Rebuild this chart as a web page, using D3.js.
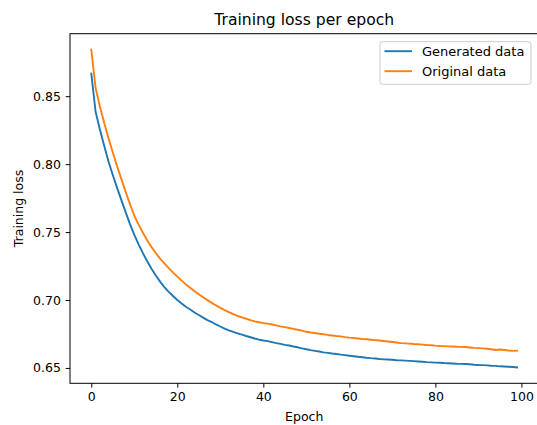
<!DOCTYPE html>
<html>
<head>
<meta charset="utf-8">
<script src="https://cdn.jsdelivr.net/npm/d3@7"></script>
<style>
    body { margin: 0; background: #fff; }
    text { font-family: "DejaVu Sans", sans-serif; fill: #000; }
</style>
</head>
<body>
<div id="chart"></div>
<script>
// epoch index 0..99
const epochs = d3.range(100);

// loss
const generatedLoss = [
    0.8667, 0.8385, 0.8255, 0.8135, 0.8020, 0.7920, 0.7825, 0.7735, 0.7645, 0.7558,
    0.7480, 0.7410, 0.7345, 0.7285, 0.7230, 0.7180, 0.7135, 0.7095, 0.7060, 0.7030,
    0.7000, 0.6975, 0.6950, 0.6930, 0.6908, 0.6890, 0.6870, 0.6852, 0.6838, 0.6820,
    0.6805, 0.6790, 0.6777, 0.6765, 0.6755, 0.6745, 0.6735, 0.6726, 0.6717, 0.6709,
    0.6702, 0.6697, 0.6690, 0.6683, 0.6677, 0.6670, 0.6665, 0.6658, 0.6652, 0.6644,
    0.6638, 0.6631, 0.6626, 0.6621, 0.6615, 0.6611, 0.6606, 0.6603, 0.6598, 0.6594,
    0.6590, 0.6586, 0.6582, 0.6579, 0.6575, 0.6572, 0.6570, 0.6566, 0.6563, 0.6562,
    0.6560, 0.6557, 0.6556, 0.6554, 0.6552, 0.6550, 0.6548, 0.6546, 0.6543, 0.6541,
    0.6539, 0.6538, 0.6536, 0.6535, 0.6533, 0.6531, 0.6530, 0.6529, 0.6527, 0.6524,
    0.6522, 0.6521, 0.6519, 0.6516, 0.6515, 0.6512, 0.6511, 0.6509, 0.6507, 0.6504
];
const originalLoss = [
    0.8843, 0.8560, 0.8425, 0.8305, 0.8190, 0.8085, 0.7985, 0.7890, 0.7795, 0.7705,
    0.7620, 0.7555, 0.7495, 0.7440, 0.7390, 0.7345, 0.7305, 0.7270, 0.7235, 0.7202,
    0.7172, 0.7143, 0.7115, 0.7090, 0.7065, 0.7042, 0.7020, 0.6999, 0.6979, 0.6960,
    0.6942, 0.6926, 0.6911, 0.6897, 0.6884, 0.6872, 0.6862, 0.6852, 0.6843, 0.6836,
    0.6830, 0.6826, 0.6820, 0.6813, 0.6806, 0.6800, 0.6794, 0.6788, 0.6781, 0.6775,
    0.6766, 0.6761, 0.6757, 0.6752, 0.6748, 0.6743, 0.6739, 0.6735, 0.6732, 0.6727,
    0.6723, 0.6720, 0.6717, 0.6713, 0.6711, 0.6708, 0.6705, 0.6702, 0.6698, 0.6695,
    0.6691, 0.6687, 0.6683, 0.6681, 0.6679, 0.6676, 0.6674, 0.6672, 0.6669, 0.6667,
    0.6664, 0.6662, 0.6661, 0.6659, 0.6658, 0.6656, 0.6655, 0.6654, 0.6651, 0.6648,
    0.6646, 0.6644, 0.6641, 0.6638, 0.6632, 0.6636, 0.6632, 0.6628, 0.6626, 0.6627
];

const seriesNames = ["Generated data", "Original data"];
const seriesColors = ["#1f77b4", "#ff7f0e"];
const xTicks = [0, 20, 40, 60, 80, 100];
const yTicks = [0.65, 0.70, 0.75, 0.80, 0.85];

const W = 537, H = 425;
const margin = { top: 33.7, left: 70, right: 538.4, bottom: 383.3 }; // axes box edges
const fontSize = 12.5;

const series = seriesNames.map((name, i) => ({
    name: name,
    color: seriesColors[i],
    values: i === 0 ? generatedLoss : originalLoss
}));

// matplotlib style 5% padding
const pad = (lo, hi) => [lo - (hi - lo) * 0.05, hi + (hi - lo) * 0.05];
const allVals = generatedLoss.concat(originalLoss);

const x = d3.scaleLinear()
    .domain(pad(d3.min(epochs), d3.max(epochs)))
    .range([margin.left, margin.right]);
const y = d3.scaleLinear()
    .domain(pad(d3.min(allVals), d3.max(allVals)))
    .range([margin.bottom, margin.top]);

const svg = d3.select("#chart").append("svg")
    .attr("width", W)
    .attr("height", H)
    .style("display", "block");

svg.append("rect").attr("width", W).attr("height", H).attr("fill", "#fff");

// lines
const line = d3.line()
    .x((d, i) => x(epochs[i]))
    .y(d => y(d));

svg.append("g")
    .selectAll("path")
    .data(series)
    .enter()
    .append("path")
    .attr("d", d => line(d.values))
    .attr("fill", "none")
    .attr("stroke", d => d.color)
    .attr("stroke-width", 1.9)
    .attr("stroke-linejoin", "round")
    .attr("stroke-linecap", "square");

// axes
const xAxis = svg.append("g")
    .attr("transform", "translate(0," + margin.bottom + ")")
    .call(d3.axisBottom(x).tickValues(xTicks).tickSize(4.3).tickPadding(4.5).tickFormat(d3.format("d")));
const yAxis = svg.append("g")
    .attr("transform", "translate(" + margin.left + ",0)")
    .call(d3.axisLeft(y).tickValues(yTicks).tickSize(4.3).tickPadding(4.8).tickFormat(d3.format(".2f")));

[xAxis, yAxis].forEach(g => {
    g.select(".domain").remove();
    g.selectAll(".tick line").attr("stroke", "#000").attr("stroke-width", 1);
    g.selectAll(".tick text")
        .attr("font-family", "DejaVu Sans, sans-serif")
        .attr("font-size", fontSize)
        .attr("fill", "#000");
});

// frame
svg.append("rect")
    .attr("x", margin.left)
    .attr("y", margin.top)
    .attr("width", margin.right - margin.left)
    .attr("height", margin.bottom - margin.top)
    .attr("fill", "none")
    .attr("stroke", "#000")
    .attr("stroke-width", 1);

// title and labels
const cx = (margin.left + margin.right) / 2;
svg.append("text")
    .attr("x", cx)
    .attr("y", 25)
    .attr("text-anchor", "middle")
    .attr("font-size", 15.6)
    .text("Training loss per epoch");

svg.append("text")
    .attr("x", cx)
    .attr("y", 421)
    .attr("text-anchor", "middle")
    .attr("font-size", fontSize)
    .text("Epoch");

svg.append("text")
    .attr("transform", "translate(22.5," + (margin.top + margin.bottom) / 2 + ") rotate(-90)")
    .attr("text-anchor", "middle")
    .attr("font-size", fontSize)
    .text("Training loss");

// legend
const lgW = 151, lgH = 42.6;
const lgX = margin.right - 7.4 - lgW;
const lgY = margin.top + 8;
const legend = svg.append("g").attr("transform", "translate(" + lgX + "," + lgY + ")");
legend.append("rect")
    .attr("width", lgW)
    .attr("height", lgH)
    .attr("rx", 2.5)
    .attr("fill", "#fff")
    .attr("fill-opacity", 0.8)
    .attr("stroke", "#cccccc")
    .attr("stroke-width", 1);

const item = legend.selectAll("g.item")
    .data(series)
    .enter()
    .append("g")
    .attr("class", "item")
    .attr("transform", (d, i) => "translate(0," + (9.5 + i * 20) + ")");
item.append("line")
    .attr("x1", 4.5)
    .attr("x2", 32)
    .attr("stroke", d => d.color)
    .attr("stroke-width", 1.9);
item.append("text")
    .attr("x", 42)
    .attr("y", 4.6)
    .attr("font-size", 13)
    .text(d => d.name);
</script>
</body>
</html>
